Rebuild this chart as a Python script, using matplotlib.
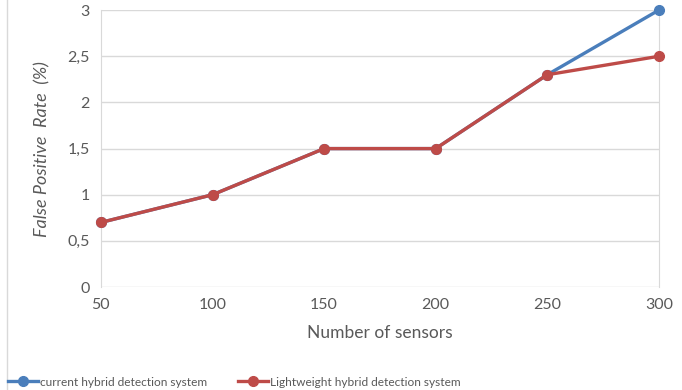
import matplotlib.pyplot as plt
from matplotlib.lines import Line2D
from matplotlib.ticker import FuncFormatter

sensors = ['50', '100', '150', '200', '250', '300']
current_hybrid = [0.7, 1.0, 1.5, 1.5, 2.3, 3.0]
lightweight_hybrid = [0.7, 1.0, 1.5, 1.5, 2.3, 2.5]

plt.rcParams['font.family'] = ['Lato', 'DejaVu Sans']
text_color = '#595959'

fig = plt.figure(figsize=(6.82, 3.9), dpi=100)
ax = fig.add_axes([0.148, 0.264, 0.818, 0.71])

x = list(range(len(sensors)))
ax.plot(x, current_hybrid, '-o', color='#4A7EBB', linewidth=2.4, markersize=7,
        label='current hybrid detection system', zorder=3, clip_on=False)
ax.plot(x, lightweight_hybrid, '-o', color='#BE4B48', linewidth=2.4, markersize=7,
        label='Lightweight hybrid detection system', zorder=4, clip_on=False)

ax.set_xlim(0, len(sensors) - 1)
ax.set_ylim(0, 3)
ax.set_xticks(x)
ax.set_xticklabels(sensors)
ax.set_yticks([0, 0.5, 1, 1.5, 2, 2.5, 3])
ax.yaxis.set_major_formatter(FuncFormatter(lambda v, p: f'{v:g}'.replace('.', ',')))
ax.grid(axis='y', color='#D9D9D9', linewidth=1)
ax.set_axisbelow(True)
for side in ['top', 'bottom']:
    ax.spines[side].set_visible(False)
for side in ['left', 'right']:
    ax.spines[side].set_color('#D9D9D9')
ax.tick_params(length=0, colors=text_color, labelsize=11.5, pad=8)

ax.set_xlabel('Number of sensors', fontsize=12.5, color=text_color, labelpad=9)
ax.set_ylabel('False Positive  Rate  (%)', fontsize=13, color=text_color,
              style='italic', labelpad=12)

fig.add_artist(Line2D([7 / 682, 7 / 682], [0, 1], color='#D9D9D9', linewidth=1))

fig.legend(loc='center left', bbox_to_anchor=(8 / 682, 1 - 382 / 390), ncol=2,
           frameon=False, fontsize=8.6, labelcolor=text_color, handlelength=2.5,
           handletextpad=0.17, columnspacing=2.6, borderaxespad=0, borderpad=0)

fig.savefig('out.png', dpi=100)
